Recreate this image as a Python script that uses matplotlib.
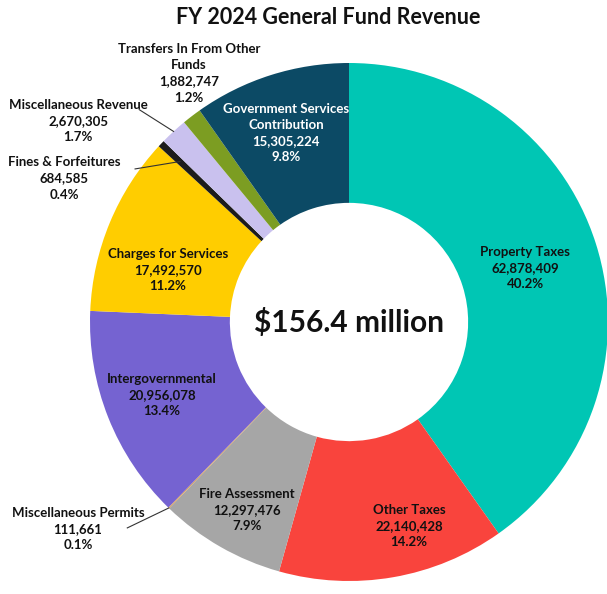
import numpy as np
import matplotlib.pyplot as plt

plt.rcParams['font.family'] = ['Lato', 'DejaVu Sans']

# ---- data
categories = ['Property Taxes', 'Other Taxes', 'Fire Assessment', 'Miscellaneous Permits',
              'Intergovernmental', 'Charges for Services', 'Fines & Forfeitures',
              'Miscellaneous Revenue', 'Transfers In From Other\nFunds',
              'Government Services\nContribution']
values = [62878409, 22140428, 12297476, 111661, 20956078, 17492570,
          684585, 2670305, 1882747, 15305224]
colors = ['#00C6B4', '#F9443D', '#A6A6A6', '#D9A05B', '#7563D1', '#FFCD00',
          '#1C1C1C', '#C9C1EE', '#7C9D22', '#0C4A65']

# label placement (data coords, radius 1 = outer edge)
label_pos = [(0.68, 0.208), (0.232, -0.788), (-0.394, -0.726), (-1.046, -0.80),
             (-0.722, -0.282), (-0.699, 0.201), (-1.10, 0.554),
             (-1.046, 0.776), (-0.618, 0.96), (-0.243, 0.73)]
# leader line: start next to the label, radius where it touches the ring
leader_start = {3: (-0.856, -0.795), 6: (-0.826, 0.591), 7: (-0.81, 0.82)}
leader_r = {3: 1.0, 6: 0.9, 7: 1.0}

fig = plt.figure(figsize=(6.07, 5.94), dpi=100)
cx, cy = 349 / 607, (594 - 322) / 594
rw, rh = 259 / 607, 259 / 594
ax = fig.add_axes([cx - rw, cy - rh, 2 * rw, 2 * rh])

wedges, _ = ax.pie(values, colors=colors, startangle=90, counterclock=False,
                   radius=1.0, wedgeprops=dict(width=0.54, linewidth=0))
ax.set_xlim(-1, 1)
ax.set_ylim(-1, 1)
ax.set_aspect('equal')
ax.axis('off')

total = sum(values)
for i, w in enumerate(wedges):
    txt = f"{categories[i]}\n{values[i]:,}\n{values[i] / total * 100:.1f}%"
    color = 'white' if i == 9 else '#111111'
    ax.text(label_pos[i][0], label_pos[i][1], txt, ha='center', va='center',
            fontsize=9.5, fontweight='bold', color=color, linespacing=1.42,
            clip_on=False)
    if i in leader_start:
        ang = np.deg2rad((w.theta1 + w.theta2) / 2)
        r = leader_r[i]
        ax.plot([leader_start[i][0], r * np.cos(ang)],
                [leader_start[i][1], r * np.sin(ang)],
                color='#333333', lw=0.8, clip_on=False)

ax.text(0, -0.0, f"${total / 1e6:.1f} million", ha='center', va='center',
        fontsize=21.5, fontweight='bold', color='#111111')

fig.text(0.54, 0.97, 'FY 2024 General Fund Revenue', ha='center', va='center',
         fontsize=15.5, fontweight='bold', color='#111111')

fig.savefig('out.png', dpi=100)
